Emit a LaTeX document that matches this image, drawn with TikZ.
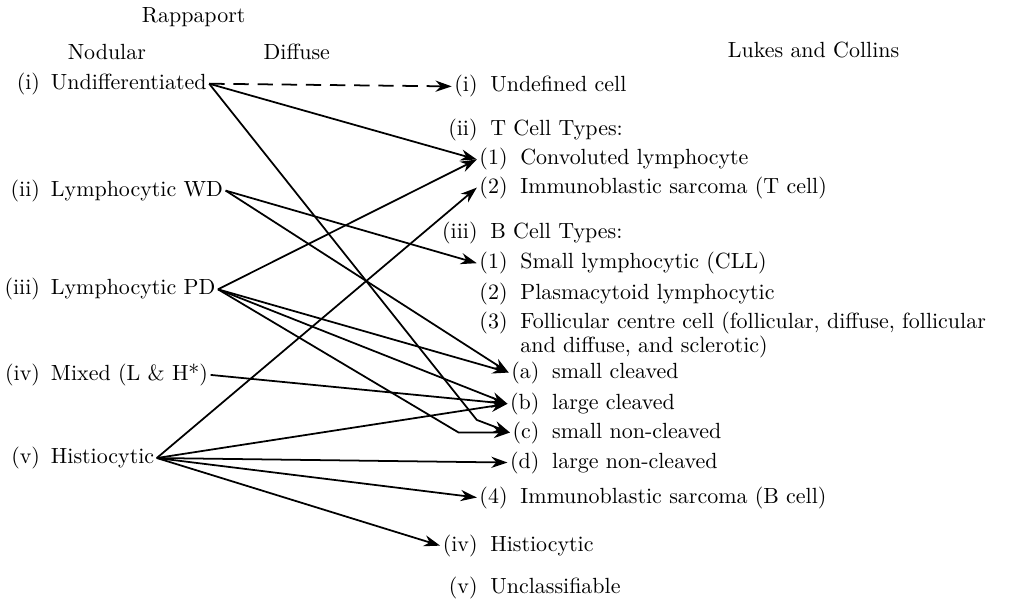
\documentclass[tikz,border=0pt]{standalone}
\usepackage{tikz}
\usetikzlibrary{positioning}
\usetikzlibrary{arrows.meta,backgrounds}
\tikzstyle{lbox} = [inner sep=1pt, anchor=west]
\tikzstyle{num} = [inner sep=1pt, anchor=base east, fill=white]
\tikzstyle{txt} = [inner sep=1pt]
\tikzstyle{arrow} = [thick,-{Stealth[length=2.6mm,width=1.8mm]}]
\newcommand{\lnum}[1]{\makebox[1.7em][r]{#1}\enspace}

\begin{document}
\begin{tikzpicture}
    \useasboundingbox (0,0) rectangle (16.5,-9.6);

    % headings
    \node (rapp) at (3.10,-0.27) {Rappaport};
    \node (nodular) at (1.71,-0.83) {Nodular};
    \node (diffuse) at (4.75,-0.83) {Diffuse};
    \node (lukes) at (13.02,-0.80) {Lukes and Collins};

    % Rappaport
    \node[lbox] (undiff) at (0,-1.34) {\lnum{(i)}Undifferentiated};
    \node[lbox] (lwd) at (0,-3.05) {\lnum{(ii)}Lymphocytic WD};
    \node[lbox] (lpd) at (0,-4.63) {\lnum{(iii)}Lymphocytic PD};
    \node[lbox] (mixed) at (0,-6.00) {\lnum{(iv)}Mixed (L \& H*)};
    \node[lbox] (histio) at (0,-7.33) {\lnum{(v)}Histiocytic};

    % Lukes and Collins
    \node[num] (undef) at (7.685,-1.47) {(i)};
    \node[txt, base right=1.2mm of undef] (undef-t) {Undefined cell};

    \node[num] (tcell) at (7.685,-2.17) {(ii)};
    \node[txt, base right=1.2mm of tcell] (tcell-t) {T Cell Types:};
    \node[num] (conv) at (8.165,-2.64) {(1)};
    \node[txt, base right=1.2mm of conv] (conv-t) {Convoluted lymphocyte};
    \node[num] (immt) at (8.165,-3.09) {(2)};
    \node[txt, base right=1.2mm of immt] (immt-t) {Immunoblastic sarcoma (T cell)};

    \node[num] (bcell) at (7.685,-3.82) {(iii)};
    \node[txt, base right=1.2mm of bcell] (bcell-t) {B Cell Types:};
    \node[num] (cll) at (8.165,-4.30) {(1)};
    \node[txt, base right=1.2mm of cll] (cll-t) {Small lymphocytic (CLL)};
    \node[num] (plasma) at (8.165,-4.80) {(2)};
    \node[txt, base right=1.2mm of plasma] (plasma-t) {Plasmacytoid lymphocytic};
    \node[num] (follic) at (8.165,-5.25) {(3)};
    \node[txt, base right=1.2mm of follic, yshift=-11pt, align=left] (follic-t) {Follicular centre cell (follicular, diffuse, follicular\\[-1pt]and diffuse, and sclerotic)};
    \node[num] (smallcl) at (8.675,-6.05) {(a)};
    \node[txt, base right=1.2mm of smallcl] (smallcl-t) {small cleaved};
    \node[num] (largecl) at (8.675,-6.55) {(b)};
    \node[txt, base right=1.2mm of largecl] (largecl-t) {large cleaved};
    \node[num] (smallnc) at (8.675,-7.01) {(c)};
    \node[txt, base right=1.2mm of smallnc] (smallnc-t) {small non-cleaved};
    \node[num] (largenc) at (8.675,-7.49) {(d)};
    \node[txt, base right=1.2mm of largenc] (largenc-t) {large non-cleaved};
    \node[num] (immb) at (8.165,-8.05) {(4)};
    \node[txt, base right=1.2mm of immb] (immb-t) {Immunoblastic sarcoma (B cell)};

    \node[num] (histo) at (7.685,-8.82) {(iv)};
    \node[txt, base right=1.2mm of histo] (histo-t) {Histiocytic};
    \node[num] (unclass) at (7.685,-9.50) {(v)};
    \node[txt, base right=1.2mm of unclass] (unclass-t) {Unclassifiable};

    \coordinate (bend1) at (7.63,-6.72);
    \coordinate (bend2) at (7.34,0 |- smallnc.west);

    \begin{scope}[on background layer]
        \draw [arrow, dash pattern=on 7pt off 4pt] (undiff.east) -- (undef.west);
        \draw [arrow] (undiff.east) -- (conv.west);
        \draw [arrow] (undiff.east) -- (bend1) -- (smallnc.west);
        \draw [arrow] (lwd.east) -- (cll.west);
        \draw [arrow] (lwd.east) -- (smallcl.west);
        \draw [arrow] (lpd.east) -- (conv.west);
        \draw [arrow] (lpd.east) -- (smallcl.west);
        \draw [arrow] (lpd.east) -- (largecl.west);
        \draw [arrow] (lpd.east) -- (bend2) -- (smallnc.west);
        \draw [arrow] (mixed.east) -- (largecl.west);
        \draw [arrow] (histio.east) -- (immt.west);
        \draw [arrow] (histio.east) -- (largecl.west);
        \draw [arrow] (histio.east) -- (largenc.west);
        \draw [arrow] (histio.east) -- (immb.west);
        \draw [arrow] (histio.east) -- (histo.west);
    \end{scope}

\end{tikzpicture}
\end{document}
